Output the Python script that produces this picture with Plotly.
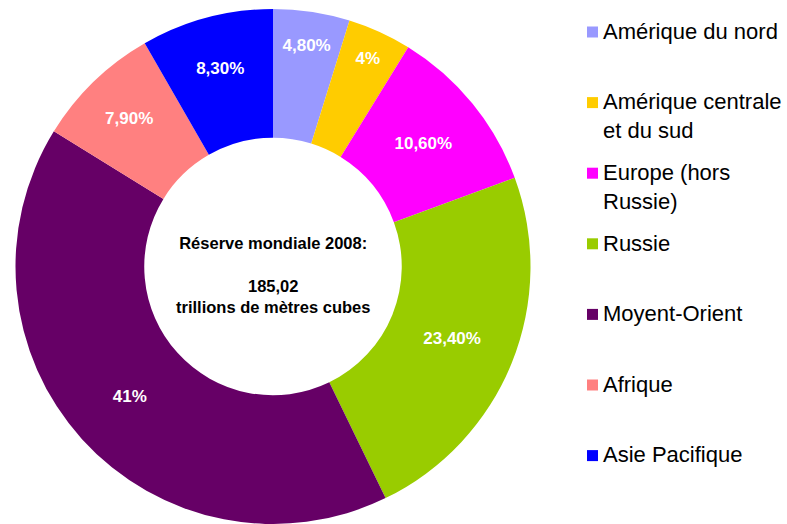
import plotly.graph_objects as go

W, H = 787, 524

regions = ["Amérique du nord", "Amérique centrale<br>et du sud", "Europe (hors<br>Russie)",
           "Russie", "Moyent-Orient", "Afrique", "Asie Pacifique"]
shares = [4.8, 4, 10.6, 23.4, 41, 7.9, 8.3]
colors = ["#9999FF", "#FFCC00", "#FF00FF", "#99CC00", "#660066", "#FF8080", "#0000FF"]
center_text = "Réserve mondiale 2008:<br><br>185,02<br>trillions de mètres cubes"

FONT = "Liberation Sans, Arial, sans-serif"


def pct_label(v):
    if float(v).is_integer():
        return f"{int(v)}%"
    return f"{v:.2f}".replace(".", ",") + "%"


# pie geometry (pixels)
cx, top = 273, 9
r = (H - top) / 2

fig = go.Figure()
fig.add_trace(go.Pie(
    labels=[l.replace("<br>", " ") for l in regions],
    values=shares,
    text=[pct_label(v) for v in shares],
    textinfo="text",
    textposition="inside",
    insidetextorientation="horizontal",
    textfont=dict(family=FONT, size=17, color="white", weight="bold"),
    marker=dict(colors=colors, line=dict(width=0)),
    hole=0.5,
    sort=False,
    direction="clockwise",
    rotation=0,
    showlegend=False,
    domain=dict(x=[(cx - r) / W, (cx + r) / W], y=[0, 1 - top / H]),
))

# centre text
fig.add_annotation(
    x=cx / W, y=1 - 275 / H, xref="paper", yref="paper",
    text=center_text, showarrow=False, align="center",
    font=dict(family=FONT, size=16.5, color="black", weight="bold"),
)

# legend drawn on the right
leg_x, leg_y0, leg_step, sq = 587, 32, 70.6, 11
fs = 22
for i, (name, col) in enumerate(zip(regions, colors)):
    yc = leg_y0 + i * leg_step
    fig.add_shape(
        type="rect", xref="paper", yref="paper",
        x0=leg_x / W, x1=(leg_x + sq) / W,
        y0=1 - (yc - sq / 2) / H, y1=1 - (yc + sq / 2) / H,
        fillcolor=col, line=dict(width=0),
    )
    fig.add_annotation(
        x=(leg_x + sq + 4) / W, y=1 - yc / H, xref="paper", yref="paper",
        xanchor="left", yanchor="top", yshift=fs * 1.3 / 2,
        text=name, showarrow=False, align="left", borderpad=0,
        font=dict(family=FONT, size=fs, color="black"),
    )

fig.update_layout(
    width=W, height=H,
    margin=dict(l=0, r=0, t=0, b=0),
    paper_bgcolor="white",
    plot_bgcolor="white",
)

fig.write_html("out.html", config={"displayModeBar": False},
               post_script="document.body.style.margin='0';")
